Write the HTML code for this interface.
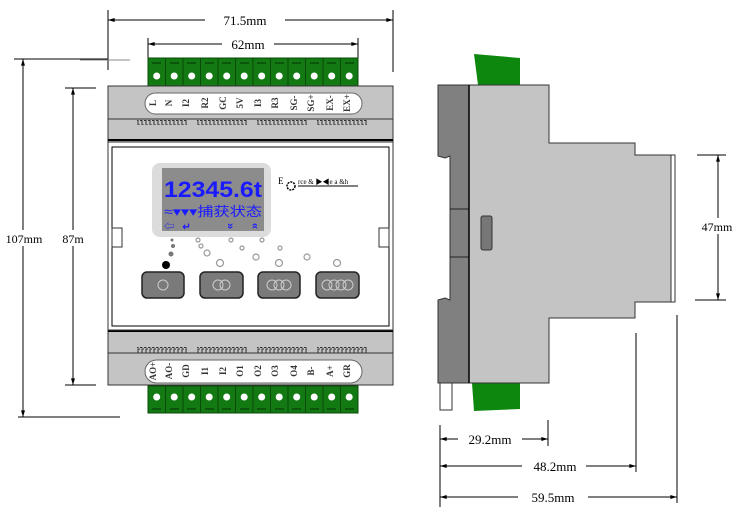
<!DOCTYPE html>
<html><head><meta charset="utf-8"><style>
html,body{margin:0;padding:0;background:#fff;}
svg{display:block;font-family:"Liberation Serif","Noto Serif CJK SC",serif;}
.sans{font-family:"Liberation Sans","Noto Sans CJK SC",sans-serif;}
</style></head><body>
<svg width="750" height="532" viewBox="0 0 750 532" xmlns="http://www.w3.org/2000/svg">
<defs>
<marker id="a" viewBox="0 0 10 6" refX="10" refY="3" markerWidth="7" markerHeight="4" orient="auto-start-reverse"><path d="M0,0 L10,3 L0,6 z" fill="#000"/></marker>
<pattern id="tt" x="0" y="0" width="4" height="6" patternUnits="userSpaceOnUse"><path d="M0 0.5 H2 V5 H4" fill="none" stroke="#333" stroke-width="1"/></pattern>
<pattern id="tb" x="0" y="0" width="4" height="6" patternUnits="userSpaceOnUse"><path d="M0 5.5 H2 V1 H4" fill="none" stroke="#333" stroke-width="1"/></pattern>
</defs>
<!-- dimension lines front -->
<g stroke="#000" stroke-width="1" fill="none">
<line x1="108" y1="10" x2="108" y2="70"/>
<line x1="393" y1="10" x2="393" y2="72"/>
<line x1="108" y1="20" x2="393" y2="20" marker-start="url(#a)" marker-end="url(#a)"/>
<line x1="148" y1="38" x2="148" y2="60"/>
<line x1="358" y1="38" x2="358" y2="60"/>
<line x1="148" y1="44" x2="358" y2="44" marker-start="url(#a)" marker-end="url(#a)"/>
<line x1="80" y1="60" x2="130" y2="60" stroke="#888"/>
<line x1="14" y1="59" x2="108" y2="59"/>
<line x1="18" y1="417" x2="120" y2="417"/>
<line x1="23" y1="59" x2="23" y2="417" marker-start="url(#a)" marker-end="url(#a)"/>
<line x1="65" y1="88" x2="96" y2="88"/>
<line x1="65" y1="385" x2="96" y2="385"/>
<line x1="73" y1="88" x2="73" y2="385" marker-start="url(#a)" marker-end="url(#a)"/>
</g>
<rect x="205" y="12" width="80" height="16" fill="#fff"/>
<text x="245" y="25" font-size="13" text-anchor="middle">71.5mm</text>
<rect x="222" y="36" width="52" height="16" fill="#fff"/>
<text x="248" y="49" font-size="13" text-anchor="middle">62mm</text>
<rect x="4" y="230" width="42" height="16" fill="#fff"/>
<text x="24" y="243" font-size="12" text-anchor="middle">107mm</text>
<rect x="58" y="230" width="30" height="16" fill="#fff"/>
<text x="73" y="243" font-size="12" text-anchor="middle">87m</text>

<!-- top terminals -->
<g>
<rect x="148" y="58" width="210" height="29" fill="#137a13" stroke="#0a4a0a"/>
<g stroke="#0a4a0a">
<line x1="165.5" y1="58" x2="165.5" y2="87"/><line x1="183" y1="58" x2="183" y2="87"/><line x1="200.5" y1="58" x2="200.5" y2="87"/><line x1="218" y1="58" x2="218" y2="87"/><line x1="235.5" y1="58" x2="235.5" y2="87"/><line x1="253" y1="58" x2="253" y2="87"/><line x1="270.5" y1="58" x2="270.5" y2="87"/><line x1="288" y1="58" x2="288" y2="87"/><line x1="305.5" y1="58" x2="305.5" y2="87"/><line x1="323" y1="58" x2="323" y2="87"/><line x1="340.5" y1="58" x2="340.5" y2="87"/>
</g>
<g fill="#fff"><circle cx="156.7" cy="76" r="3.5"/><circle cx="174.2" cy="76" r="3.5"/><circle cx="191.7" cy="76" r="3.5"/><circle cx="209.2" cy="76" r="3.5"/><circle cx="226.7" cy="76" r="3.5"/><circle cx="244.2" cy="76" r="3.5"/><circle cx="261.7" cy="76" r="3.5"/><circle cx="279.2" cy="76" r="3.5"/><circle cx="296.7" cy="76" r="3.5"/><circle cx="314.2" cy="76" r="3.5"/><circle cx="331.7" cy="76" r="3.5"/><circle cx="349.2" cy="76" r="3.5"/></g>
<g stroke="#0a4a0a" stroke-width="1.5"><path d="M152 63h9M170 63h9M187 63h9M205 63h9M222 63h9M240 63h9M257 63h9M275 63h9M292 63h9M310 63h9M327 63h9M345 63h9"/></g>
</g>
<!-- bottom terminals -->
<g>
<rect x="148" y="386" width="210" height="27" fill="#137a13" stroke="#0a4a0a"/>
<g stroke="#0a4a0a">
<line x1="165.5" y1="386" x2="165.5" y2="413"/><line x1="183" y1="386" x2="183" y2="413"/><line x1="200.5" y1="386" x2="200.5" y2="413"/><line x1="218" y1="386" x2="218" y2="413"/><line x1="235.5" y1="386" x2="235.5" y2="413"/><line x1="253" y1="386" x2="253" y2="413"/><line x1="270.5" y1="386" x2="270.5" y2="413"/><line x1="288" y1="386" x2="288" y2="413"/><line x1="305.5" y1="386" x2="305.5" y2="413"/><line x1="323" y1="386" x2="323" y2="413"/><line x1="340.5" y1="386" x2="340.5" y2="413"/>
</g>
<g fill="#fff"><circle cx="156.7" cy="397" r="3.5"/><circle cx="174.2" cy="397" r="3.5"/><circle cx="191.7" cy="397" r="3.5"/><circle cx="209.2" cy="397" r="3.5"/><circle cx="226.7" cy="397" r="3.5"/><circle cx="244.2" cy="397" r="3.5"/><circle cx="261.7" cy="397" r="3.5"/><circle cx="279.2" cy="397" r="3.5"/><circle cx="296.7" cy="397" r="3.5"/><circle cx="314.2" cy="397" r="3.5"/><circle cx="331.7" cy="397" r="3.5"/><circle cx="349.2" cy="397" r="3.5"/></g>
<g stroke="#0a4a0a" stroke-width="1.5"><path d="M152 409h9M170 409h9M187 409h9M205 409h9M222 409h9M240 409h9M257 409h9M275 409h9M292 409h9M310 409h9M327 409h9M345 409h9"/></g>
</g>

<!-- front body -->
<rect x="108" y="86" width="285" height="299" fill="#c4c4c4" stroke="#333"/>
<rect x="145" y="93" width="217" height="21" rx="10.5" fill="#fff" stroke="#666"/>
<line x1="108" y1="119" x2="393" y2="119" stroke="#333"/>
<g fill="url(#tt)">
<rect x="137" y="119" width="50" height="6"/><rect x="197" y="119" width="50" height="6"/><rect x="257" y="119" width="50" height="6"/><rect x="317" y="119" width="50" height="6"/>
</g>
<line x1="108" y1="140" x2="393" y2="140" stroke="#000" stroke-width="2"/>
<line x1="108" y1="353" x2="393" y2="353" stroke="#333"/>
<g fill="url(#tb)">
<rect x="137" y="347" width="50" height="6"/><rect x="197" y="347" width="50" height="6"/><rect x="257" y="347" width="50" height="6"/><rect x="317" y="347" width="50" height="6"/>
</g>
<line x1="108" y1="331" x2="393" y2="331" stroke="#000" stroke-width="2"/>
<rect x="108" y="142" width="285" height="188" fill="#fff" stroke="#333"/>
<rect x="112" y="147" width="277" height="179" fill="#fff" stroke="#000"/>
<rect x="112" y="228" width="10" height="19" fill="#fff" stroke="#333"/>
<rect x="379" y="228" width="10" height="19" fill="#fff" stroke="#333"/>
<rect x="145" y="360" width="217" height="23" rx="11.5" fill="#fff" stroke="#666"/>

<!-- top labels -->
<g font-size="9" font-weight="bold" fill="#333">
<text transform="translate(156,103) rotate(-90)" text-anchor="middle">L</text>
<text transform="translate(172,103) rotate(-90)" text-anchor="middle">N</text>
<text transform="translate(189,103) rotate(-90)" text-anchor="middle">I2</text>
<text transform="translate(208,103) rotate(-90)" text-anchor="middle">R2</text>
<text transform="translate(226,103) rotate(-90)" text-anchor="middle">GC</text>
<text transform="translate(243,103) rotate(-90)" text-anchor="middle">5V</text>
<text transform="translate(261,103) rotate(-90)" text-anchor="middle">I3</text>
<text transform="translate(278,103) rotate(-90)" text-anchor="middle">R3</text>
<text transform="translate(297,103) rotate(-90)" text-anchor="middle">SG-</text>
<text transform="translate(314,103) rotate(-90)" text-anchor="middle">SG+</text>
<text transform="translate(333,103) rotate(-90)" text-anchor="middle">EX-</text>
<text transform="translate(350,103) rotate(-90)" text-anchor="middle">EX+</text>
</g>
<g font-size="9" font-weight="bold" fill="#333">
<text transform="translate(156,371) rotate(-90)" text-anchor="middle">AO+</text>
<text transform="translate(172,371) rotate(-90)" text-anchor="middle">AO-</text>
<text transform="translate(189,371) rotate(-90)" text-anchor="middle">GD</text>
<text transform="translate(208,371) rotate(-90)" text-anchor="middle">I1</text>
<text transform="translate(226,371) rotate(-90)" text-anchor="middle">I2</text>
<text transform="translate(243,371) rotate(-90)" text-anchor="middle">O1</text>
<text transform="translate(261,371) rotate(-90)" text-anchor="middle">O2</text>
<text transform="translate(278,371) rotate(-90)" text-anchor="middle">O3</text>
<text transform="translate(297,371) rotate(-90)" text-anchor="middle">O4</text>
<text transform="translate(314,371) rotate(-90)" text-anchor="middle">B-</text>
<text transform="translate(333,371) rotate(-90)" text-anchor="middle">A+</text>
<text transform="translate(350,371) rotate(-90)" text-anchor="middle">GR</text>
</g>

<!-- display -->
<rect x="152" y="163" width="119" height="74" rx="8" fill="#dcdcdc"/>
<rect x="162" y="168" width="102" height="63" fill="#8c8c8c"/>
<text class="sans" x="164" y="197" font-size="22" font-weight="bold" fill="#1a1aff" textLength="98" lengthAdjust="spacingAndGlyphs">12345.6t</text>
<text class="sans" x="164" y="216" font-size="13" fill="#1a1aff" textLength="98" lengthAdjust="spacingAndGlyphs">≈▾▾▾捕获状态</text>
<text class="sans" x="164" y="230" font-size="10" font-weight="bold" fill="#1a1aff">⇦&#160;&#160;&#160;↵</text>
<text class="sans" x="228" y="230" font-size="11" font-weight="bold" fill="#1a1aff" transform="rotate(90 231 226)">»</text>
<text class="sans" x="251" y="230" font-size="11" font-weight="bold" fill="#1a1aff" transform="rotate(-90 254 226)">»</text>
<!-- logo -->
<text x="278" y="184" font-size="9" fill="#000">E</text>
<circle cx="291" cy="186" r="4" fill="none" stroke="#000" stroke-width="1.5" stroke-dasharray="2 1"/>
<text x="298" y="184" font-size="7" fill="#000">rce &amp; ▶◀e a &amp;h</text>
<line x1="298" y1="186" x2="358" y2="186" stroke="#000"/>

<!-- LEDs -->
<g fill="none" stroke="#999" stroke-width="1.2">
<circle cx="198" cy="240" r="2"/><circle cx="201" cy="246" r="2"/><circle cx="207" cy="253" r="3"/>
<circle cx="231" cy="240" r="2"/><circle cx="242" cy="248" r="2"/><circle cx="256" cy="257" r="3"/>
<circle cx="262" cy="240" r="2"/><circle cx="280" cy="248" r="2"/><circle cx="307" cy="257" r="3"/>
<circle cx="220" cy="263" r="3.5"/><circle cx="279" cy="263" r="3.5"/><circle cx="337" cy="263" r="3.5"/>
</g>
<circle cx="172" cy="240" r="1.5" fill="#777"/><circle cx="173" cy="246" r="2" fill="#777"/><circle cx="171" cy="254" r="2.5" fill="#777"/>
<circle cx="166" cy="265" r="4" fill="#000"/>
<!-- buttons -->
<g fill="#7a7a7a" stroke="#222" stroke-width="1.5">
<rect x="142" y="272" width="42" height="26" rx="5"/>
<rect x="200" y="272" width="43" height="26" rx="5"/>
<rect x="258" y="272" width="42" height="26" rx="5"/>
<rect x="316" y="272" width="43" height="26" rx="5"/>
</g>
<g fill="none" stroke="#ccc" stroke-width="1">
<circle cx="163" cy="285" r="5"/>
<circle cx="218" cy="285" r="5"/><circle cx="225" cy="285" r="5"/>
<circle cx="272" cy="285" r="5"/><circle cx="279" cy="285" r="5"/><circle cx="286" cy="285" r="5"/>
<circle cx="327" cy="285" r="5"/><circle cx="334" cy="285" r="5"/><circle cx="341" cy="285" r="5"/><circle cx="348" cy="285" r="5"/>
</g>

<!-- side view -->
<path d="M474 54 L520 58 L520 85 L478 85 Z" fill="#0d870d"/>
<path d="M472 383 L520 383 L520 409 L474 411 Z" fill="#0d870d"/>
<rect x="440" y="383" width="12" height="27" fill="#fff" stroke="#333"/>
<path d="M469 85 H549 V143 H635 V155 H671 V302 H635 V318 H549 V383 H469 Z" fill="#c4c4c4" stroke="#333"/>
<rect x="671" y="155" width="4" height="147" fill="#fff" stroke="#333"/>
<path d="M438 85 H469 V383 H438 V300 L445 298 L450 300 V156 L445 158 L438 156 Z" fill="#808080" stroke="#333"/>
<line x1="450" y1="209" x2="469" y2="209" stroke="#222"/>
<line x1="450" y1="257" x2="469" y2="257" stroke="#222"/>
<line x1="469" y1="85" x2="469" y2="383" stroke="#000" stroke-width="1.5"/>
<rect x="481" y="216" width="11" height="34" rx="2" fill="#777" stroke="#333"/>

<!-- side dims -->
<g stroke="#000" stroke-width="1" fill="none">
<line x1="697" y1="155" x2="726" y2="155"/>
<line x1="695" y1="300" x2="726" y2="300"/>
<line x1="718" y1="155" x2="718" y2="300" marker-start="url(#a)" marker-end="url(#a)"/>
<line x1="440" y1="425" x2="440" y2="507"/>
<line x1="548" y1="420" x2="548" y2="446"/>
<line x1="636" y1="333" x2="636" y2="472"/>
<line x1="677" y1="315" x2="677" y2="503"/>
<line x1="440" y1="439" x2="548" y2="439" marker-start="url(#a)" marker-end="url(#a)"/>
<line x1="440" y1="466" x2="636" y2="466" marker-start="url(#a)" marker-end="url(#a)"/>
<line x1="440" y1="497" x2="677" y2="497" marker-start="url(#a)" marker-end="url(#a)"/>
</g>
<rect x="700" y="218" width="34" height="16" fill="#fff"/>
<text x="717" y="231" font-size="12" text-anchor="middle">47mm</text>
<rect x="458" y="431" width="64" height="16" fill="#fff"/>
<text x="490" y="444" font-size="13" text-anchor="middle">29.2mm</text>
<rect x="522" y="458" width="64" height="16" fill="#fff"/>
<text x="555" y="471" font-size="13" text-anchor="middle">48.2mm</text>
<rect x="518" y="489" width="70" height="16" fill="#fff"/>
<text x="553" y="502" font-size="13" text-anchor="middle">59.5mm</text>
</svg>
</body></html>
